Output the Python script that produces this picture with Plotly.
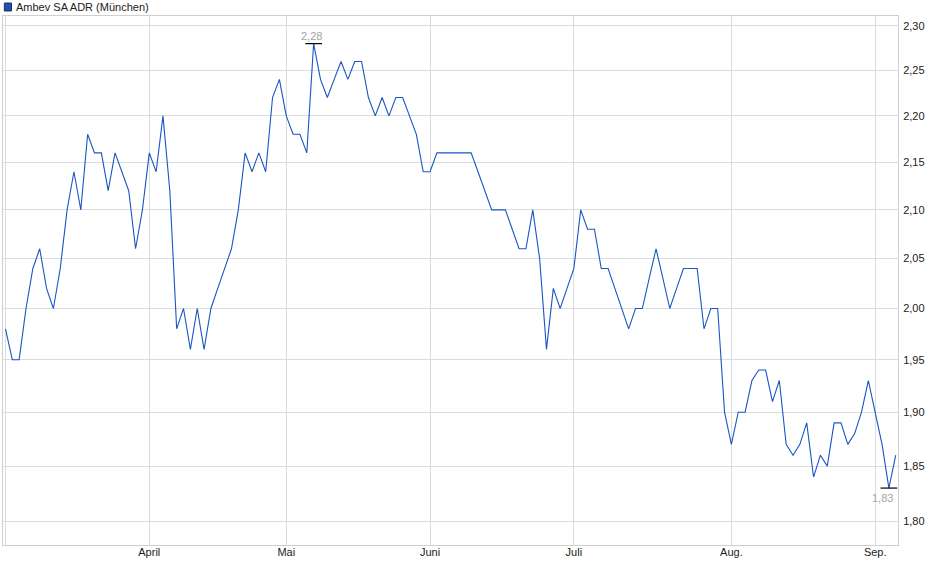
import math

import pandas as pd
import plotly.graph_objects as go

# Ambev SA ADR (München), Schlusskurse in EUR, Handelstage 2025
START, END = "2025-03-03", "2025-09-04"
HOLIDAYS = ["2025-04-18", "2025-04-21", "2025-05-01"]

PRICE_MAR = [1.98, 1.95, 1.95, 2.00, 2.04, 2.06, 2.02, 2.00, 2.04, 2.10, 2.14,
             2.10, 2.18, 2.16, 2.16, 2.12, 2.16, 2.14, 2.12, 2.06, 2.10]
PRICE_APR = [2.16, 2.14, 2.20, 2.12, 1.98, 2.00, 1.96, 2.00, 1.96, 2.00,
             2.02, 2.04, 2.06, 2.10, 2.16, 2.14, 2.16, 2.14, 2.22, 2.24]
PRICE_MAY = [2.20, 2.18, 2.18, 2.16, 2.28, 2.24, 2.22, 2.24, 2.26, 2.24, 2.26,
             2.26, 2.22, 2.20, 2.22, 2.20, 2.22, 2.22, 2.20, 2.18, 2.14]
PRICE_JUN = [2.14, 2.16, 2.16, 2.16, 2.16, 2.16, 2.16, 2.14, 2.12, 2.10, 2.10,
             2.10, 2.08, 2.06, 2.06, 2.10, 2.05, 1.96, 2.02, 2.00, 2.02]
PRICE_JUL = [2.04, 2.10, 2.08, 2.08, 2.04, 2.04, 2.02, 2.00, 1.98, 2.00, 2.00, 2.03,
             2.06, 2.03, 2.00, 2.02, 2.04, 2.04, 2.04, 1.98, 2.00, 2.00, 1.90]
PRICE_AUG = [1.87, 1.90, 1.90, 1.93, 1.94, 1.94, 1.91, 1.93, 1.87, 1.86, 1.87,
             1.89, 1.84, 1.86, 1.85, 1.89, 1.89, 1.87, 1.88, 1.90, 1.93]
PRICE_SEP = [1.90, 1.87, 1.83, 1.86]

MONTH_LABELS = ["", "April", "Mai", "Juni", "Juli", "Aug.", "Sep."]
Y_TICKS = [1.80, 1.85, 1.90, 1.95, 2.00, 2.05, 2.10, 2.15, 2.20, 2.25, 2.30]

FONT = "Liberation Sans, Arial, sans-serif"
LINE_BLUE = "#1a56c2"
GRID = "#dcdcdc"

dates = pd.bdate_range(START, END, freq="C", holidays=HOLIDAYS)
x = [d.strftime("%Y-%m-%d") for d in dates]
prices = PRICE_MAR + PRICE_APR + PRICE_MAY + PRICE_JUN + PRICE_JUL + PRICE_AUG + PRICE_SEP

# erster Handelstag jedes Monats -> Gitterlinie
month_first = [x[i] for i in range(len(x)) if i == 0 or dates[i].month != dates[i - 1].month]

i_max = prices.index(max(prices))
i_min = prices.index(min(prices))

fig = go.Figure()
fig.add_trace(go.Scatter(x=x, y=prices, mode="lines",
                         line=dict(color=LINE_BLUE, width=1.1),
                         showlegend=False, hoverinfo="x+y"))

# Hoch / Tief: kurzer Strich + Wert (Annotationen auf Log-Achse in log10)
fig.add_trace(go.Scatter(
    x=[x[i_max], x[i_min]], y=[prices[i_max], prices[i_min]], mode="markers",
    marker=dict(symbol="line-ew", size=12, line=dict(width=1.2, color="black")),
    showlegend=False, hoverinfo="skip"))
for i, anchor, xs, ys in ((i_max, "bottom", -2, 0), (i_min, "top", -6, -2)):
    fig.add_annotation(x=x[i], y=math.log10(prices[i]), yref="y", xref="x",
                       text=f"{prices[i]:.2f}".replace(".", ","),
                       showarrow=False, xanchor="center", yanchor=anchor,
                       xshift=xs, yshift=ys,
                       font=dict(family=FONT, size=11, color="#a3a3a3"))

# Legende oben links
fig.add_shape(type="rect", xref="paper", yref="paper",
              x0=0.0015, x1=0.0095, y0=1.0095, y1=1.0245,
              fillcolor="#1f4fb0", line=dict(color="#1a2f66", width=1))
fig.add_annotation(text="Ambev SA ADR (München)", xref="paper", yref="paper",
                   x=0.0125, y=1.0175, xanchor="left", yanchor="middle",
                   showarrow=False, font=dict(family=FONT, size=11, color="#222222"))

fig.update_layout(
    width=940, height=579,
    margin=dict(l=3, r=42, t=16, b=34),
    paper_bgcolor="white", plot_bgcolor="white",
    separators=",.",
    font=dict(family=FONT, size=11, color="#222222"),
    xaxis=dict(type="category", range=[-0.36, len(x) - 0.67],
               tickvals=month_first, ticktext=MONTH_LABELS,
               showgrid=True, gridcolor=GRID, gridwidth=1,
               showline=True, linecolor="#cfcfcf", mirror=True,
               ticks="", ticklabelstandoff=-3,
               tickfont=dict(family=FONT, size=11, color="#222222"),
               zeroline=False, fixedrange=True),
    yaxis=dict(type="log", side="right",
               range=[0.25022, 0.36387],
               tickvals=Y_TICKS, tickformat=".2f",
               showgrid=True, gridcolor=GRID, gridwidth=1,
               showline=True, linecolor="#cfcfcf", mirror=True,
               ticks="", ticklabelstandoff=2,
               tickfont=dict(family=FONT, size=11, color="#222222"),
               zeroline=False, fixedrange=True),
)

fig.write_html("out.html", config={"displayModeBar": False},
               post_script="document.body.style.margin='0px';")
